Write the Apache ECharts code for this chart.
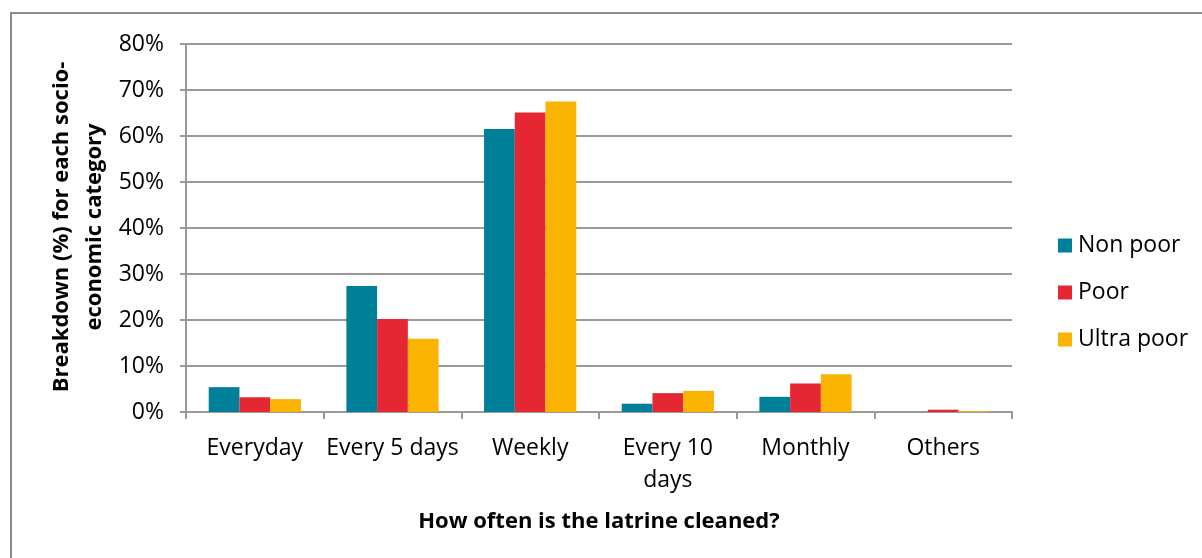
<!DOCTYPE html>
<html><head><meta charset="utf-8">
<script src="https://cdn.jsdelivr.net/npm/echarts@6/dist/echarts.min.js"></script>
<style>
html,body{margin:0;padding:0;background:#fff;}
#frame{position:absolute;left:10px;top:12px;width:1300px;height:700px;border:2px solid #8c8c8c;box-sizing:border-box;}
#chart{position:absolute;left:0;top:0;width:1202px;height:558px;}
</style></head>
<body>
<div id="frame"></div>
<div id="chart"></div>
<script>
const categories = ['Everyday', 'Every 5 days', 'Weekly', 'Every 10 days', 'Monthly', 'Others'];
const nonPoor = [5.4, 27.4, 61.5, 1.8, 3.3, 0];
const poor = [3.2, 20.2, 65.1, 4.1, 6.2, 0.5];
const ultraPoor = [2.8, 15.9, 67.5, 4.6, 8.2, 0.2];
const yTicks = [0, 10, 20, 30, 40, 50, 60, 70, 80];

const FONT = 'Open Sans';
const chart = echarts.init(document.getElementById('chart'), null, {renderer: 'canvas'});
const gridColor = '#9a9a9a';
chart.setOption({
  animation: false,
  textStyle: {fontFamily: FONT},
  grid: {left: 186, right: 190, top: 44, bottom: 146, containLabel: false},
  legend: {
    orient: 'vertical', left: 1053, top: 229,
    itemWidth: 14, itemHeight: 14, itemGap: 24,
    icon: 'rect',
    textStyle: {fontFamily: FONT, fontSize: 23, color: '#000', padding: [0, 0, 0, 1]},
    data: ['Non poor', 'Poor', 'Ultra poor']
  },
  xAxis: {
    type: 'category', data: categories,
    axisLine: {lineStyle: {color: gridColor, width: 2}},
    axisTick: {show: true, length: 7, lineStyle: {color: gridColor, width: 2}},
    axisLabel: {
      color: '#000', fontSize: 23, fontFamily: FONT, margin: 20, lineHeight: 32, interval: 0,
      formatter: v => v === 'Every 10 days' ? 'Every 10\ndays' : v
    }
  },
  yAxis: {
    type: 'value', min: yTicks[0], max: yTicks[yTicks.length - 1], interval: 10,
    axisLine: {show: true, lineStyle: {color: gridColor, width: 2}},
    axisTick: {show: true, length: 6, lineStyle: {color: gridColor, width: 2}},
    splitLine: {lineStyle: {color: gridColor, width: 2}},
    axisLabel: {color: '#000', fontSize: 23, fontFamily: FONT, margin: 22, formatter: v => v + '%'}
  },
  graphic: [
    {type: 'text', x: 78, y: 227, rotation: Math.PI / 2,
     style: {text: 'Breakdown (%) for each socio-\neconomic category', fontFamily: FONT, fontSize: 22, fontWeight: 'bold',
       fill: '#000', align: 'center', verticalAlign: 'middle', lineHeight: 33}},
    {type: 'text', x: 599, y: 522,
     style: {text: 'How often is the latrine cleaned?', fontFamily: FONT, fontSize: 22, fontWeight: 'bold',
       fill: '#000', align: 'center', verticalAlign: 'middle'}}
  ],
  series: [
    {name: 'Non poor', type: 'bar', data: nonPoor, itemStyle: {color: '#007f98'}, barGap: '0%', barCategoryGap: '33%'},
    {name: 'Poor', type: 'bar', data: poor, itemStyle: {color: '#e52734'}},
    {name: 'Ultra poor', type: 'bar', data: ultraPoor, itemStyle: {color: '#fab300'}}
  ]
});
</script>
</body></html>
